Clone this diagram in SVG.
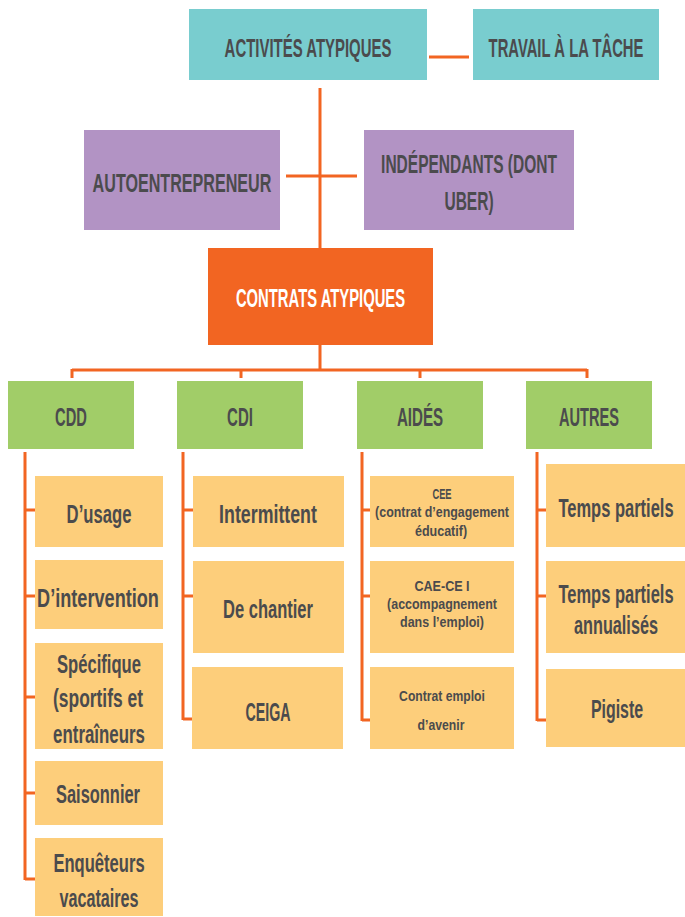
<svg xmlns="http://www.w3.org/2000/svg" width="685" height="917" viewBox="0 0 685 917">
<style>
.t{font-family:"Liberation Sans Narrow","Liberation Sans",Arial,sans-serif;font-weight:bold;fill:#4b4b4d;text-anchor:middle;font-size:26px}
.s{font-size:15px}
.w{fill:#ffffff}
.teal{fill:#79cdcf}
.purple{fill:#b293c4}
.orange{fill:#f26522}
.green{fill:#a1cd68}
.yellow{fill:#fdce7b}
.ln{stroke:#f26522;stroke-width:3;fill:none}
</style>
<rect width="685" height="917" fill="#ffffff"/>
<g id="connectors" class="ln">
<path d="M429,57H469"/>
<path d="M320,88V248"/>
<path d="M286,176H357"/>
<path d="M320,345V370M72,370H587M72,369V378M241,370V378M420,370V378M587,369V378"/>
<path d="M25,452V880M25,510H35M25,596H35M25,697H35M25,793H35M25,879H35"/>
<path d="M183,452V720M183,510H193M183,596H193M183,719H193"/>
<path d="M362,452V721M362,510H370M362,596H370M362,720H370"/>
<path d="M537,452V721M537,510H546M537,596H546M537,720H546"/>
</g>
<g id="activites"><rect class="teal" x="189" y="9" width="238" height="71"/><text class="t" transform="translate(308,57) scale(0.6,1)" textLength="278" lengthAdjust="spacingAndGlyphs">ACTIVITÉS ATYPIQUES</text></g>
<g id="travail"><rect class="teal" x="473" y="9" width="186" height="71"/><text class="t" transform="translate(566,57) scale(0.6,1)" textLength="258" lengthAdjust="spacingAndGlyphs">TRAVAIL À LA TÂCHE</text></g>
<g id="autoentrepreneur"><rect class="purple" x="84" y="130" width="196" height="100"/><text class="t" transform="translate(182,192) scale(0.6,1)" textLength="298" lengthAdjust="spacingAndGlyphs">AUTOENTREPRENEUR</text></g>
<g id="independants"><rect class="purple" x="364" y="130" width="210" height="100"/><text class="t" transform="translate(469,173) scale(0.6,1)" textLength="293" lengthAdjust="spacingAndGlyphs">INDÉPENDANTS (DONT</text><text class="t" transform="translate(469,210) scale(0.6,1)" textLength="82" lengthAdjust="spacingAndGlyphs">UBER)</text></g>
<g id="contrats"><rect class="orange" x="208" y="248" width="225" height="97"/><text class="t w" transform="translate(320.5,307) scale(0.6,1)" textLength="282" lengthAdjust="spacingAndGlyphs">CONTRATS ATYPIQUES</text></g>
<g id="cdd"><rect class="green" x="8" y="381" width="126" height="68"/><text class="t" transform="translate(71,426) scale(0.6,1)" textLength="53" lengthAdjust="spacingAndGlyphs">CDD</text></g>
<g id="cdi"><rect class="green" x="177" y="381" width="126" height="68"/><text class="t" transform="translate(240,426) scale(0.6,1)" textLength="43" lengthAdjust="spacingAndGlyphs">CDI</text></g>
<g id="aides"><rect class="green" x="357" y="381" width="126" height="68"/><text class="t" transform="translate(420,426) scale(0.6,1)" textLength="77" lengthAdjust="spacingAndGlyphs">AIDÉS</text></g>
<g id="autres"><rect class="green" x="526" y="381" width="126" height="68"/><text class="t" transform="translate(589,426) scale(0.6,1)" textLength="100" lengthAdjust="spacingAndGlyphs">AUTRES</text></g>
<g id="usage"><rect class="yellow" x="35" y="476" width="128" height="71"/><text class="t" transform="translate(99,523) scale(0.6,1)" textLength="108" lengthAdjust="spacingAndGlyphs">D’usage</text></g>
<g id="intervention"><rect class="yellow" x="35" y="560" width="128" height="69"/><text class="t" transform="translate(98,607) scale(0.6,1)" textLength="203" lengthAdjust="spacingAndGlyphs">D’intervention</text></g>
<g id="specifique"><rect class="yellow" x="35" y="643" width="128" height="106"/><text class="t" transform="translate(99,673) scale(0.6,1)" textLength="140" lengthAdjust="spacingAndGlyphs">Spécifique</text><text class="t" transform="translate(98,707) scale(0.6,1)" textLength="150" lengthAdjust="spacingAndGlyphs">(sportifs et</text><text class="t" transform="translate(99,743) scale(0.6,1)" textLength="153" lengthAdjust="spacingAndGlyphs">entraîneurs</text></g>
<g id="saisonnier"><rect class="yellow" x="35" y="761" width="128" height="64"/><text class="t" transform="translate(98,803) scale(0.6,1)" textLength="140" lengthAdjust="spacingAndGlyphs">Saisonnier</text></g>
<g id="enqueteurs"><rect class="yellow" x="35" y="838" width="128" height="78"/><text class="t" transform="translate(99,872) scale(0.6,1)" textLength="152" lengthAdjust="spacingAndGlyphs">Enquêteurs</text><text class="t" transform="translate(99,907) scale(0.6,1)" textLength="132" lengthAdjust="spacingAndGlyphs">vacataires</text></g>
<g id="intermittent"><rect class="yellow" x="193" y="476" width="151" height="71"/><text class="t" transform="translate(268,523) scale(0.6,1)" textLength="163" lengthAdjust="spacingAndGlyphs">Intermittent</text></g>
<g id="chantier"><rect class="yellow" x="193" y="561" width="151" height="92"/><text class="t" transform="translate(268,618) scale(0.6,1)" textLength="150" lengthAdjust="spacingAndGlyphs">De chantier</text></g>
<g id="ceiga"><rect class="yellow" x="192" y="667" width="151" height="82"/><text class="t" transform="translate(268,721) scale(0.6,1)" textLength="75" lengthAdjust="spacingAndGlyphs">CEIGA</text></g>
<g id="cee"><rect class="yellow" x="370" y="476" width="144" height="71"/><text class="t s" transform="translate(442,499) scale(0.6,1)" textLength="32" lengthAdjust="spacingAndGlyphs">CEE</text><text class="t s" transform="translate(442,517) scale(0.6,1)" textLength="223" lengthAdjust="spacingAndGlyphs">(contrat d’engagement</text><text class="t s" transform="translate(441,536) scale(0.6,1)" textLength="87" lengthAdjust="spacingAndGlyphs">éducatif)</text></g>
<g id="cae"><rect class="yellow" x="370" y="561" width="144" height="92"/><text class="t s" transform="translate(442,591) scale(0.6,1)" textLength="92" lengthAdjust="spacingAndGlyphs">CAE-CE I</text><text class="t s" transform="translate(442,609) scale(0.6,1)" textLength="183" lengthAdjust="spacingAndGlyphs">(accompagnement</text><text class="t s" transform="translate(442,627) scale(0.6,1)" textLength="140" lengthAdjust="spacingAndGlyphs">dans l’emploi)</text></g>
<g id="emploi-avenir"><rect class="yellow" x="370" y="667" width="144" height="82"/><text class="t s" transform="translate(442,701) scale(0.6,1)" textLength="143" lengthAdjust="spacingAndGlyphs">Contrat emploi</text><text class="t s" transform="translate(441,730) scale(0.6,1)" textLength="78" lengthAdjust="spacingAndGlyphs">d’avenir</text></g>
<g id="temps-partiels"><rect class="yellow" x="546" y="464" width="139" height="83"/><text class="t" transform="translate(616,517) scale(0.6,1)" textLength="192" lengthAdjust="spacingAndGlyphs">Temps partiels</text></g>
<g id="temps-annualises"><rect class="yellow" x="546" y="561" width="139" height="92"/><text class="t" transform="translate(616,603) scale(0.6,1)" textLength="192" lengthAdjust="spacingAndGlyphs">Temps partiels</text><text class="t" transform="translate(616,634) scale(0.6,1)" textLength="140" lengthAdjust="spacingAndGlyphs">annualisés</text></g>
<g id="pigiste"><rect class="yellow" x="546" y="669" width="139" height="78"/><text class="t" transform="translate(617,718) scale(0.6,1)" textLength="87" lengthAdjust="spacingAndGlyphs">Pigiste</text></g>
</svg>
